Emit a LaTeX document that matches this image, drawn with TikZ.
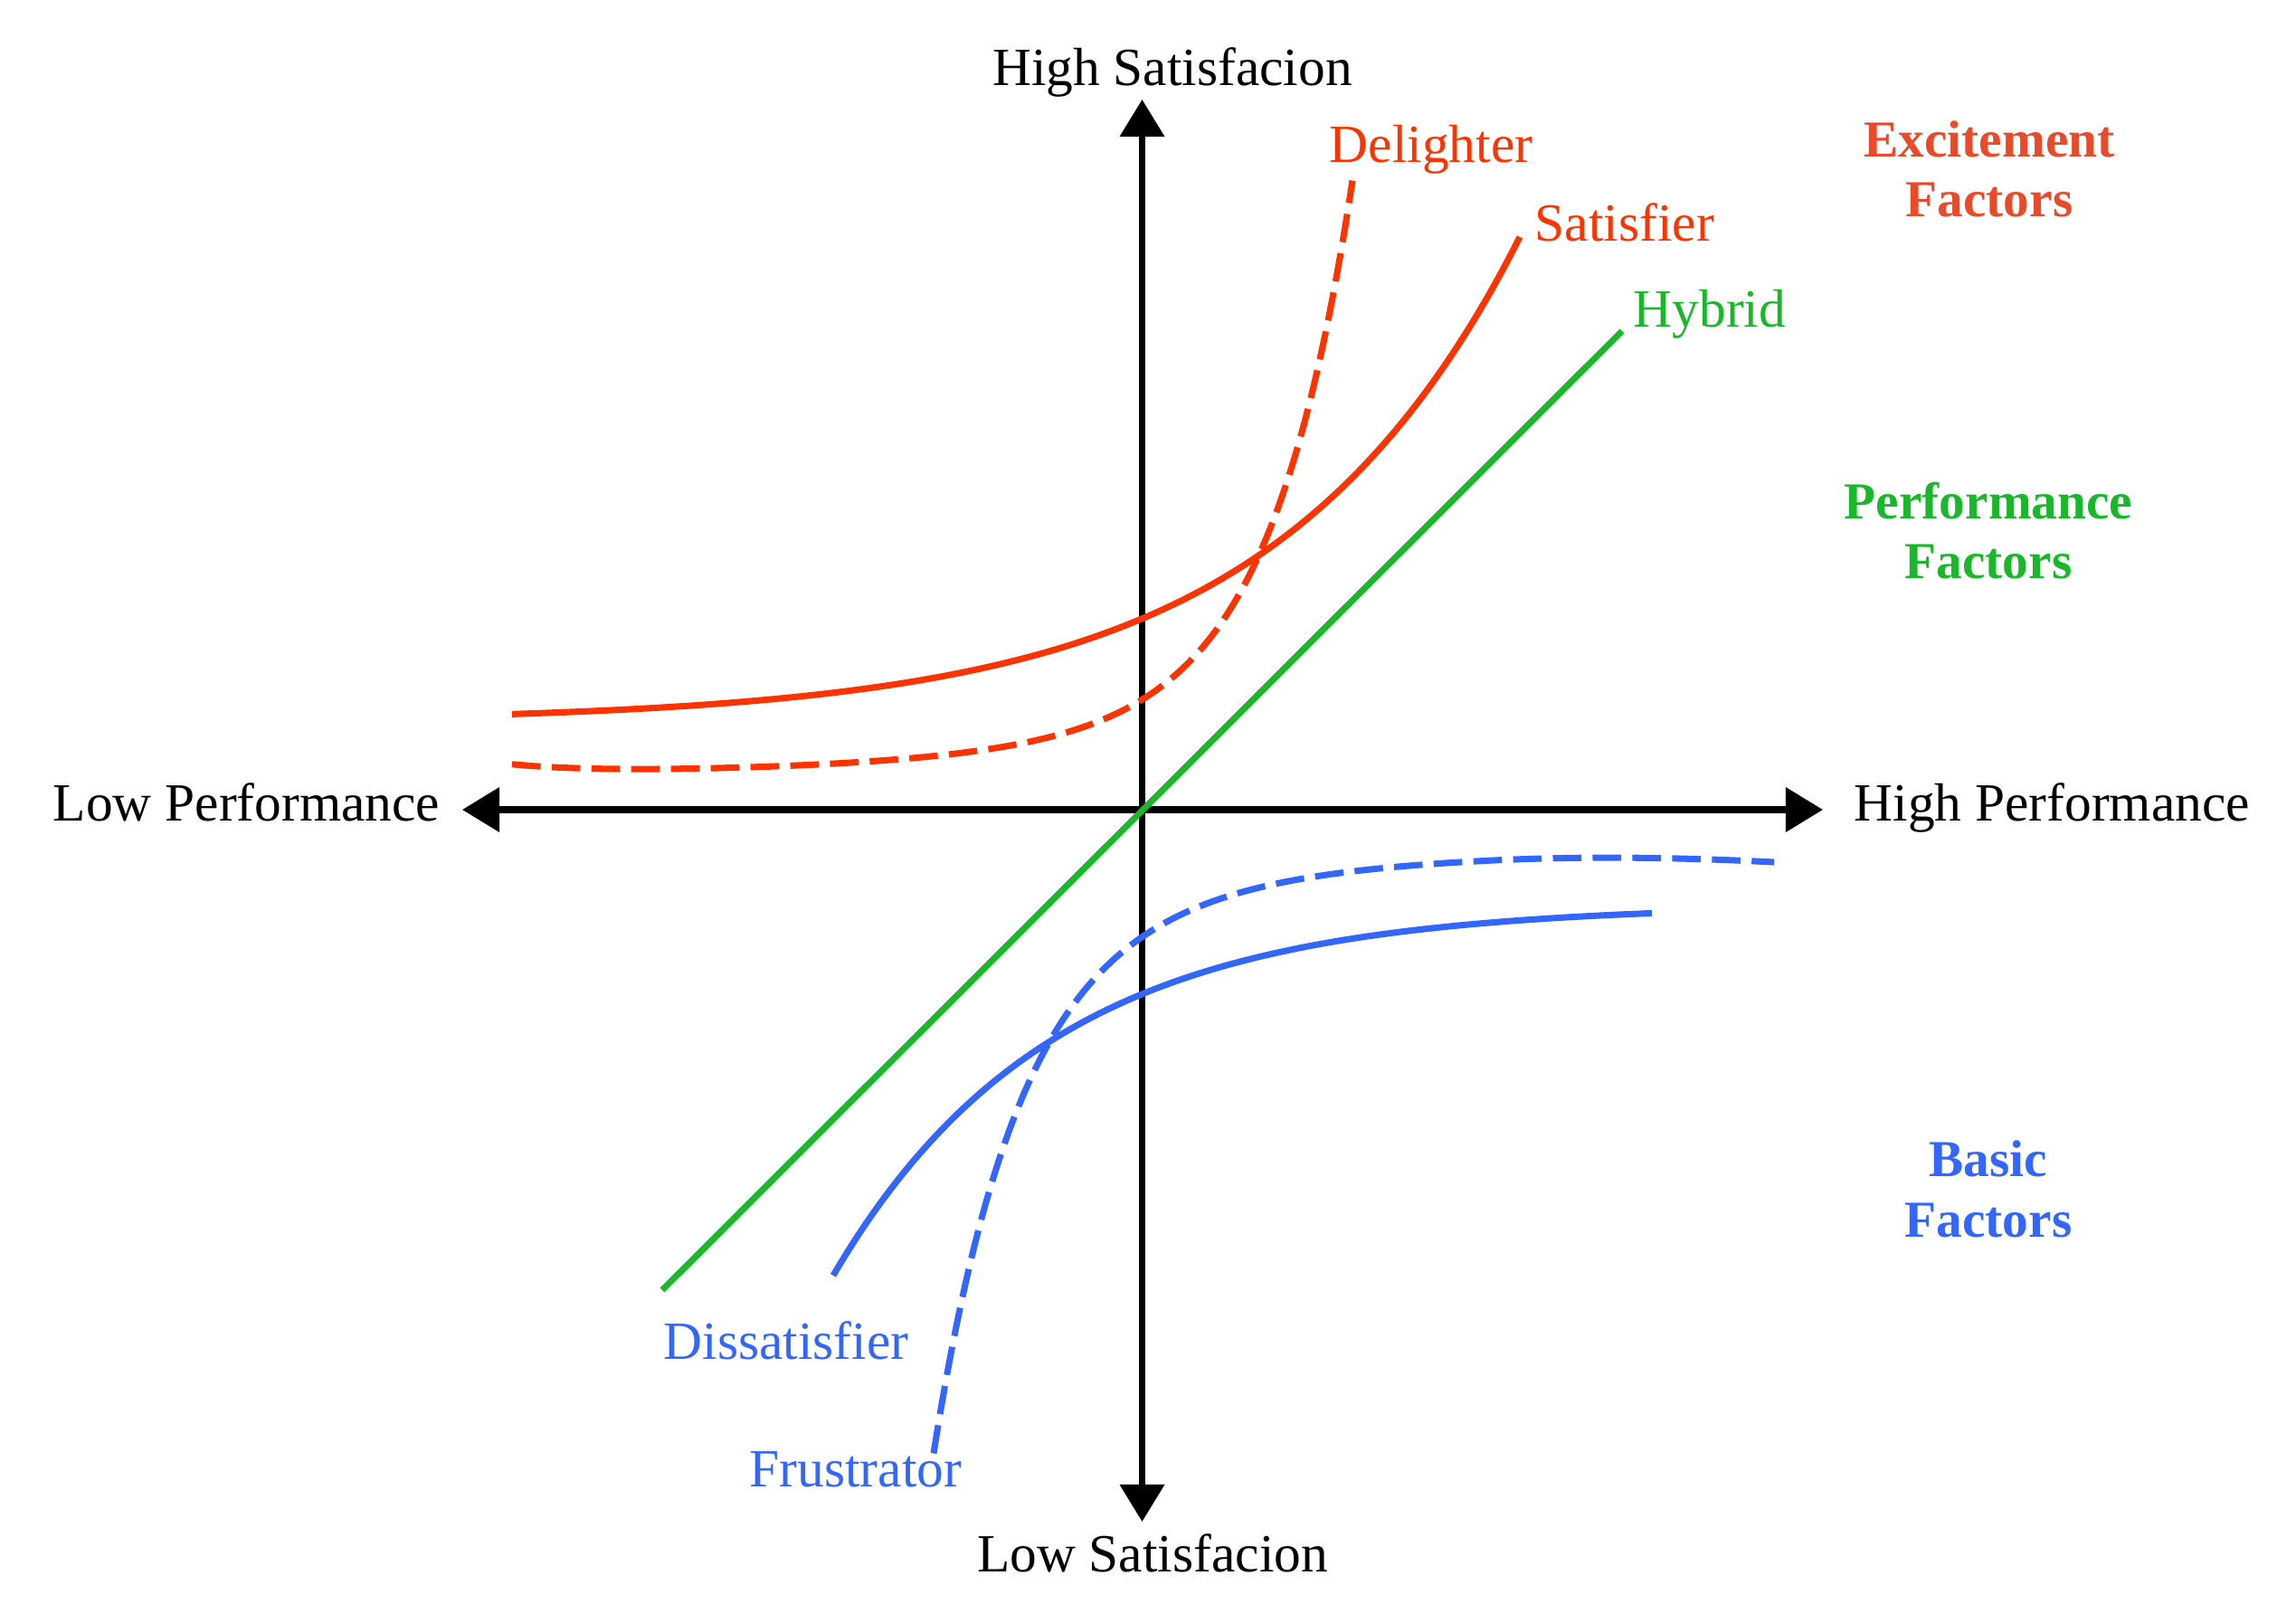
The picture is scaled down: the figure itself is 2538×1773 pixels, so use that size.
\documentclass[tikz,border=0pt]{standalone}
\usepackage{fontspec}
\setmainfont{Liberation Serif}
\usetikzlibrary{arrows.meta}
\definecolor{curvered}{HTML}{FF3300}
\definecolor{titlered}{HTML}{E94A29}
\definecolor{curvegreen}{HTML}{18B82A}
\definecolor{curveblue}{HTML}{3366FF}
\tikzset{
  axis/.style={line width=2pt, black, {Triangle[length=0.41cm,width=0.48cm]}-{Triangle[length=0.41cm,width=0.48cm]}},
  curve/.style={line width=2pt, line cap=butt},
  dashedcurve/.style={curve, dash pattern=on 9pt off 3.5pt},
  lbl/.style={anchor=base, inner sep=0pt, font=\fontsize{16.9}{20}\selectfont},
  title/.style={anchor=base, inner sep=0pt, align=center, font=\fontsize{16.3}{19}\selectfont\bfseries},
}
\begin{document}
\begin{tikzpicture}[x=0.01cm, y=-0.01cm]
\useasboundingbox (0,0) rectangle (2538,1773);
% axes
\coordinate (L) at (511,895);
\coordinate (R) at (2015,895);
\coordinate (T) at (1262.5,110);
\coordinate (B) at (1262.5,1682);
\draw[axis] (L) -- (R);
\draw[axis] (B) -- (T);
% axis labels
\node[lbl] (hs) at (1296,95) {High Satisfacion};
\node[lbl] (ls) at (1274,1737) {Low Satisfacion};
\node[lbl, anchor=base east] (lp) at (487,908) {Low Performance};
\node[lbl, anchor=base west] (hp) at (2049,908) {High Performance};
% hybrid
\coordinate (h1) at (732,1426);
\coordinate (h2) at (1793,366);
\draw[curve, curvegreen] (h1) -- (h2);
% satisfier
\draw[curve, curvered] plot[domain=566:1680, samples=120, smooth]
  (\x, {895 - 97 - 114*exp((\x-1262)/270)});
% delighter
\draw[dashedcurve, curvered] plot[domain=566:1495, samples=160, smooth]
  (\x, {895 - 36 - 43*exp((\x-1263)/90) - 43*exp((\x-1263)/300) - 10*exp(-(\x-566)/90)});
% dissatisfier
\draw[curve, curveblue] plot[domain=921:1826, samples=120, smooth]
  (\x, {895 + 105 + 99*exp(-(\x-1262)/240)});
% frustrator
\draw[dashedcurve, curveblue] plot[domain=1032:1961, samples=160, smooth]
  (\x, {895 + 46 + 39.4*exp(-(\x-1262)/90) + 55.6*exp(-(\x-1262)/220) + (max(\x-1650,0)/100)^2});
% curve labels
\node[lbl, anchor=base west, text=curvered] (del) at (1469,180) {Delighter};
\node[lbl, anchor=base west, text=curvered] (sat) at (1696,267) {Satisfier};
\node[lbl, anchor=base west, text=curvegreen] (hyb) at (1805,362) {Hybrid};
\node[lbl, anchor=base west, text=curveblue] (dis) at (733,1502) {Dissatisfier};
\node[lbl, anchor=base west, text=curveblue] (fru) at (828,1643) {Frustrator};
% factor titles (anchor at baseline of last line)
\node[title, text=titlered] (exc) at (2199,240) {Excitement\\Factors};
\node[title, text=curvegreen] (perf) at (2198,640) {Performance\\Factors};
\node[title, text=curveblue] (basic) at (2198,1367) {Basic\\Factors};
\end{tikzpicture}
\end{document}
